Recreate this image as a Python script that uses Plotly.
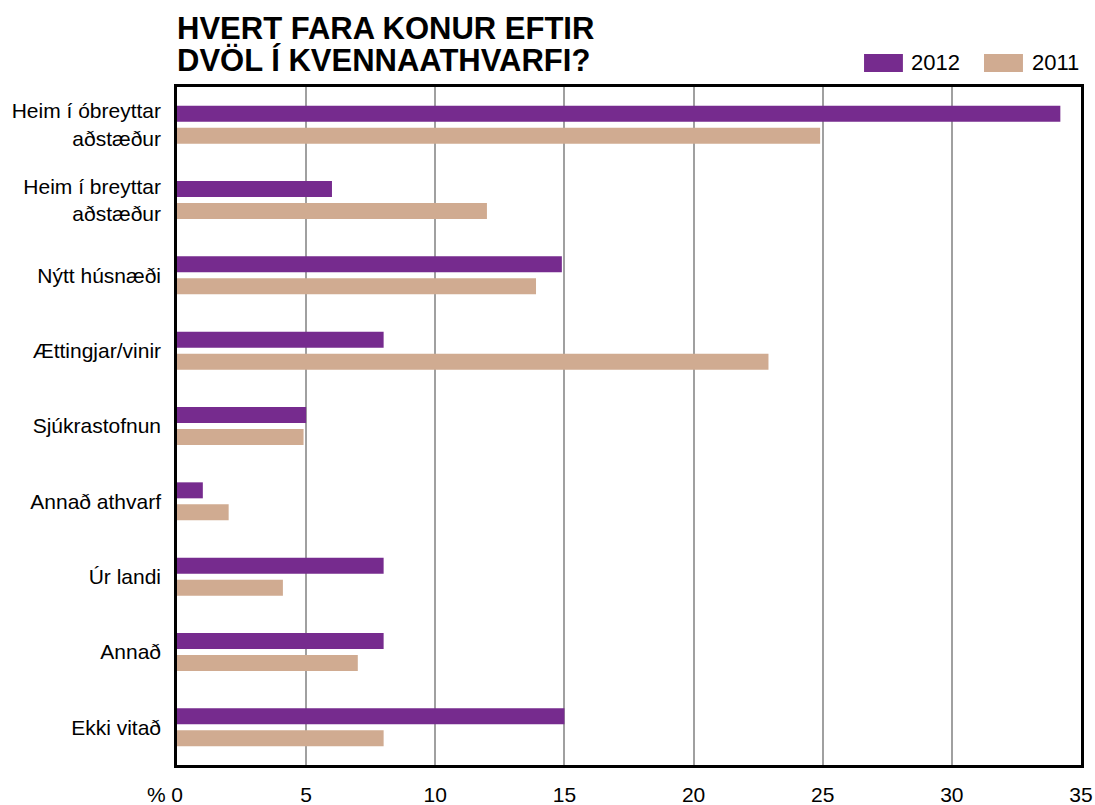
import plotly.graph_objects as go

categories = ["Heim í óbreyttar<br>aðstæður", "Heim í breyttar<br>aðstæður", "Nýtt húsnæði",
              "Ættingjar/vinir", "Sjúkrastofnun", "Annað athvarf", "Úr landi", "Annað", "Ekki vitað"]
v2012 = [34.2, 6, 14.9, 8, 5, 1, 8, 8, 15]
v2011 = [24.9, 12, 13.9, 22.9, 4.9, 2, 4.1, 7, 8]
series_names = ["2012", "2011"]
colors = ["#762B8E", "#D0AB91"]
tick_vals = [0, 5, 10, 15, 20, 25, 30, 35]
title_lines = ["HVERT FARA KONUR EFTIR", "DVÖL Í KVENNAATHVARFI?"]

FONT = "Liberation Sans, Arial, Helvetica, sans-serif"

fig = go.Figure()
for name, vals, col in zip(series_names, [v2012, v2011], colors):
    fig.add_trace(go.Bar(y=categories, x=vals, orientation="h", name=name,
                         marker=dict(color=col, line=dict(width=0)), showlegend=False))

fig.update_layout(
    width=1095, height=805,
    margin=dict(l=177, r=14, t=87, b=40, autoexpand=False),
    paper_bgcolor="white", plot_bgcolor="white",
    barmode="group", bargap=0.416, bargroupgap=0.273,
    font=dict(family=FONT, size=21, color="black"),
)
fig.update_xaxes(range=[0, 35], tickvals=tick_vals, ticktext=[str(t) for t in tick_vals],
                 showgrid=True, gridcolor="#a0a0a0", gridwidth=2,
                 showline=True, mirror=True, linecolor="black", linewidth=2.5,
                 ticks="", ticklabelstandoff=9, zeroline=False, automargin=False,
                 tickfont=dict(size=21))
fig.update_yaxes(autorange="reversed", showgrid=False, automargin=False,
                 showline=True, mirror=True, linecolor="black", linewidth=2.5,
                 ticks="", ticklabelstandoff=9, tickfont=dict(size=21))

# Title lines
fig.add_annotation(text="<b>%s</b>" % title_lines[0], xref="paper", yref="paper", x=-0.002, y=1.087,
                   xanchor="left", yanchor="middle", showarrow=False, font=dict(size=31, family=FONT))
fig.add_annotation(text="<b>%s</b>" % title_lines[1], xref="paper", yref="paper", x=-0.002, y=1.0398,
                   xanchor="left", yanchor="middle", showarrow=False, font=dict(size=31, family=FONT))

# % unit label
fig.add_annotation(text="%", xref="paper", yref="paper", x=-0.023, y=-0.044,
                   xanchor="center", yanchor="middle", showarrow=False, font=dict(size=21, family=FONT))

# Manual legend
legend_items = [(0.760, 0.803, 0.8097), (0.8927, 0.9358, 0.9436)]
for (x0, x1, tx), name, col in zip(legend_items, series_names, colors):
    fig.add_shape(type="rect", xref="paper", yref="paper", x0=x0, x1=x1, y0=1.0221, y1=1.0487,
                  fillcolor=col, line=dict(width=0))
    fig.add_annotation(text=name, xref="paper", yref="paper", x=tx, y=1.0354,
                       xanchor="left", yanchor="middle", showarrow=False, font=dict(size=22, family=FONT))

fig.write_html("out.html", config={"displayModeBar": False},
               post_script="document.body.style.margin='0';document.body.style.overflow='hidden';")
